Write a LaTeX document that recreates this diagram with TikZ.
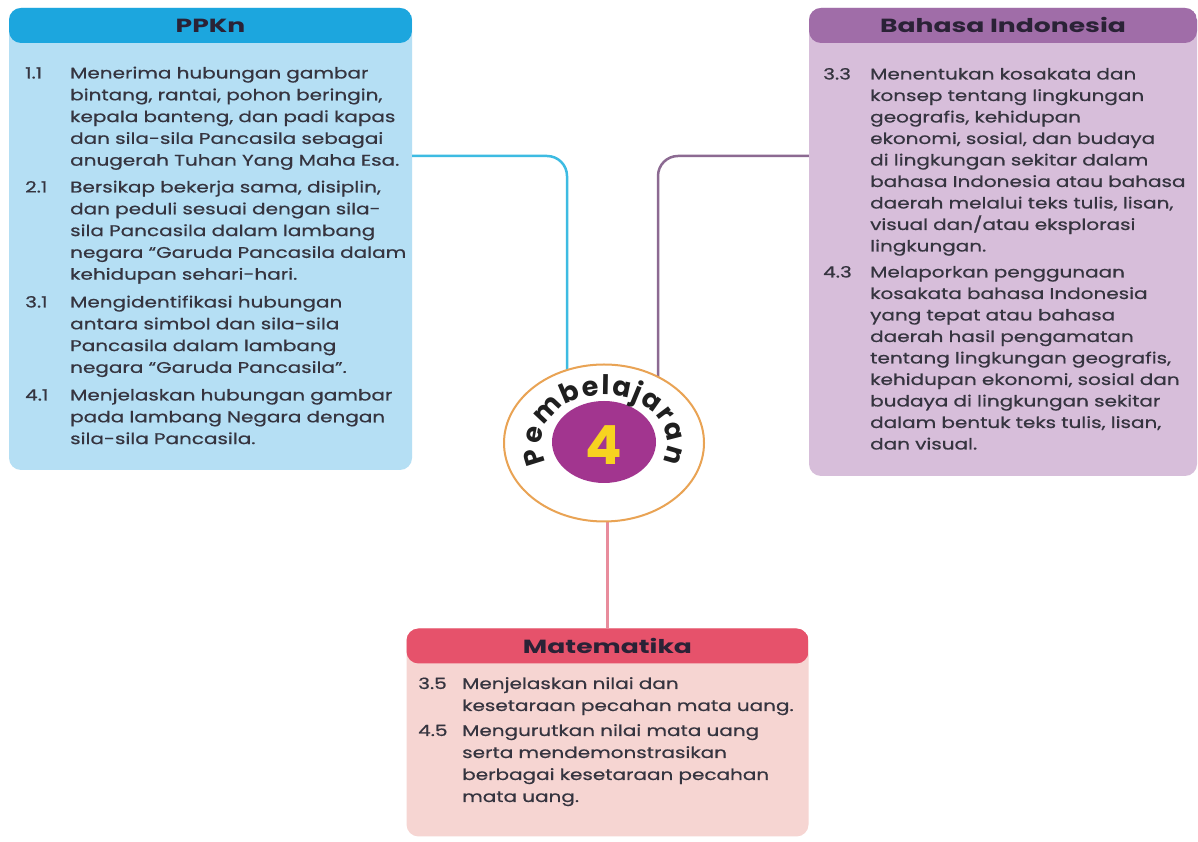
\documentclass[tikz,border=0pt]{standalone}
\usepackage{fontspec}
\setmainfont{Poppins}
\newfontfamily\bodyfont[FakeStretch=1.29,FakeBold=0.6]{Poppins}
\newfontfamily\headfont[FakeStretch=1.4]{Poppins}
\usetikzlibrary{shapes.geometric,decorations.text,calc}
\definecolor{ppkhd}{HTML}{1CA6DE}
\definecolor{ppkbd}{HTML}{B5DFF4}
\definecolor{bihd}{HTML}{A06DA8}
\definecolor{bibd}{HTML}{D7BEDA}
\definecolor{mthd}{HTML}{E6526B}
\definecolor{mtbd}{HTML}{F6D5D2}
\definecolor{txtc}{HTML}{35343F}
\definecolor{hdtxt}{HTML}{2A2236}
\definecolor{ringc}{HTML}{E9A354}
\definecolor{innerc}{HTML}{A2358F}
\definecolor{fourc}{HTML}{F7D320}
\definecolor{lnc}{HTML}{3DBBE2}
\definecolor{lnp}{HTML}{8C6A92}
\definecolor{lnm}{HTML}{E88C9C}
\begin{document}
\begin{tikzpicture}[x=1pt,y=1pt,
  card/.style 2 args={rectangle, rounded corners=12pt, fill=#2, inner sep=0pt,
    path picture={\fill[#1] ([yshift=-35pt]path picture bounding box.north west) rectangle (path picture bounding box.north east);}},
  hdr/.style={font=\headfont\fontsize{19}{19}\selectfont\bfseries, text=hdtxt, inner sep=0pt},
  num/.style={font=\bodyfont\fontsize{15.5}{21.8}\selectfont, text=txtc, anchor=base west, inner sep=0pt},
  itm/.style={font=\bodyfont\fontsize{15.5}{#1}\selectfont, text=txtc, anchor=base west, inner sep=0pt, text width=380pt, align=left},
  itm/.default=21.8,
  link/.style={line width=2.5pt, rounded corners=20pt}
]
\useasboundingbox (0,0) rectangle (1198,842);
\fill[white] (0,0) rectangle (1198,842);

% cards
\node[card={ppkhd}{ppkbd}, minimum width=403pt, minimum height=462pt] (ppkn) at (210.5,603) {};
\node[card={bihd}{bibd}, minimum width=388pt, minimum height=468pt] (bi) at (1003,600) {};
\node[card={mthd}{mtbd}, minimum width=402pt, minimum height=208pt] (mt) at (607.5,109.5) {};

\node[hdr] (ppkn-h) at ([yshift=-18pt]ppkn.north) {PPKn};
\node[hdr] (bi-h) at ([yshift=-17.5pt]bi.north) {Bahasa Indonesia};
\node[hdr] (mt-h) at ([yshift=-18pt]mt.north) {Matematika};

% PPKn items
\node[num] (p1n) at (25,763.5) {1.1};
\node[itm] (p1) at (70,763.5) {Menerima hubungan gambar\\bintang, rantai, pohon beringin,\\kepala banteng, dan padi kapas\\dan sila-sila Pancasila sebagai\\anugerah Tuhan Yang Maha Esa.};
\node[num] (p2n) at (25,649.5) {2.1};
\node[itm] (p2) at (70,649.5) {Bersikap bekerja sama, disiplin,\\dan peduli sesuai dengan sila-\\sila Pancasila dalam lambang\\negara “Garuda Pancasila dalam\\kehidupan sehari-hari.};
\node[num] (p3n) at (25,534.5) {3.1};
\node[itm] (p3) at (70,534.5) {Mengidentifikasi hubungan\\antara simbol dan sila-sila\\Pancasila dalam lambang\\negara “Garuda Pancasila”.};
\node[num] (p4n) at (25,441.5) {4.1};
\node[itm] (p4) at (70,441.5) {Menjelaskan hubungan gambar\\pada lambang Negara dengan\\sila-sila Pancasila.};

% Bahasa Indonesia items
\node[num] (b1n) at (823,762.5) {3.3};
\node[itm=21.5] (b1) at (870,762.5) {Menentukan kosakata dan\\konsep tentang lingkungan\\geografis, kehidupan\\ekonomi, sosial, dan budaya\\di lingkungan sekitar dalam\\bahasa Indonesia atau bahasa\\daerah melalui teks tulis, lisan,\\visual dan/atau eksplorasi\\lingkungan.};
\node[num] (b2n) at (823,564.5) {4.3};
\node[itm=21.5] (b2) at (870,564.5) {Melaporkan penggunaan\\kosakata bahasa Indonesia\\yang tepat atau bahasa\\daerah hasil pengamatan\\tentang lingkungan geografis,\\kehidupan ekonomi, sosial dan\\budaya di lingkungan sekitar\\dalam bentuk teks tulis, lisan,\\dan visual.};

% Matematika items
\node[num] (m1n) at (418,153) {3.5};
\node[itm=22] (m1) at (462,153) {Menjelaskan nilai dan\\kesetaraan pecahan mata uang.};
\node[num] (m2n) at (418,106) {4.5};
\node[itm=22] (m2) at (462,106) {Mengurutkan nilai mata uang\\serta mendemonstrasikan\\berbagai kesetaraan pecahan\\mata uang.};

% centre
\coordinate (cc) at (604,399);
\draw[link, lnc] (ppkn.east |- 0,686) -| ([xshift=-37pt]cc);
\draw[link, lnp] (bi.west |- 0,686) -| ([xshift=54pt]cc);
\draw[link, lnm] (cc -| mt.north) -- (mt.north);

\node[ellipse, draw=ringc, line width=2pt, fill=white, minimum width=200pt, minimum height=157pt, inner sep=0pt] (circ) at (cc) {};
\node[ellipse, fill=innerc, minimum width=104pt, minimum height=82pt, inner sep=0pt] (inner) at (604,400) {};
\node[font=\fontsize{54}{54}\selectfont\bfseries, text=fourc, inner sep=0pt] (four) at (604,397) {4};
\path[decorate, decoration={text along path, text color=black!88,
   text={|\fontsize{27}{27}\selectfont\bfseries|Pembelajaran}, text align={fit to path}}]
   ([shift={(203:63 and 48)}]circ.center) arc[start angle=203, end angle=-23, x radius=63, y radius=48];
\end{tikzpicture}
\end{document}
